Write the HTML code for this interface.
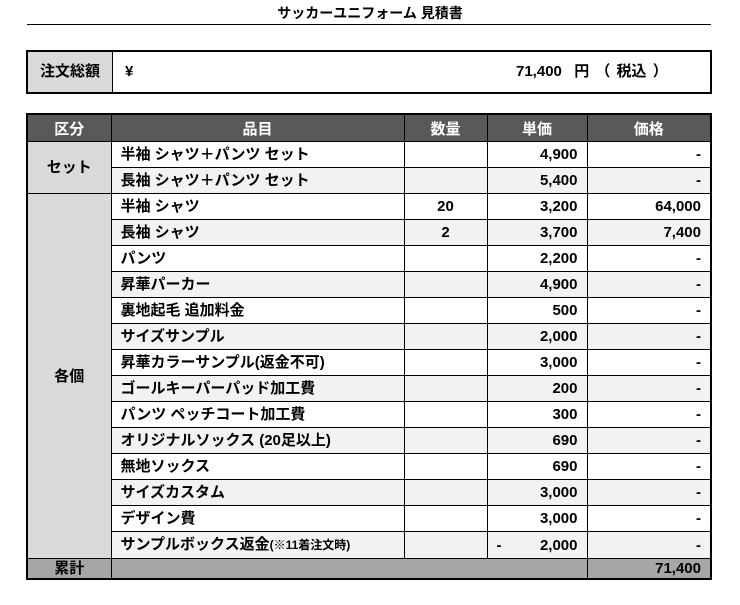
<!DOCTYPE html>
<html><head><meta charset="utf-8"><style>
body{margin:0;width:740px;height:605px;background:#fff;position:relative;font-family:"Liberation Sans","Noto Sans CJK JP",sans-serif;font-weight:bold;color:#000;}
.t{position:absolute;left:0;width:740px;top:3px;text-align:center;font-size:14px;}
.ul{position:absolute;left:27px;width:684px;top:24px;height:1px;background:#000;}
.sum{position:absolute;left:26px;top:50px;width:682px;height:40px;border:2px solid #000;}
.sum .l{position:absolute;left:0;top:0;width:84px;height:40px;background:#d9d9d9;border-right:1px solid #000;text-align:center;line-height:40px;font-size:15px;}
.sum .y{position:absolute;left:97px;top:0;line-height:40px;font-size:15px;}
.sum .v{position:absolute;left:488px;top:0;line-height:40px;font-size:15px;word-spacing:2px;}
table{position:absolute;left:26px;top:113px;border-collapse:collapse;border:2px solid #000;font-size:15px;table-layout:fixed;}
td{border:1px solid #000;padding:0 9px;height:25px;line-height:25px;white-space:nowrap;overflow:hidden;}
th{background:#595959;color:#fff;height:26px;padding:0;border:1px solid #000;font-size:15px;}
.c{background:#d9d9d9;text-align:center;}
.r{text-align:right;}
.m{text-align:center;}
tr.g td{background:#f2f2f2;}
tr.g td.c{background:#d9d9d9;}
tr.tot td{background:#a6a6a6;height:19px;line-height:19px;}
small{font-size:12px;}
</style></head><body>
<div class="t">サッカーユニフォーム 見積書</div>
<div class="ul"></div>
<div class="sum"><div class="l">注文総額</div><div class="y">¥</div><div class="v">71,400&nbsp;&nbsp;円 （ 税込 ）</div></div>
<table>
<colgroup><col style="width:84px"><col style="width:293px"><col style="width:83px"><col style="width:100px"><col style="width:124px"></colgroup>
<tr><th>区分</th><th>品目</th><th>数量</th><th>単価</th><th>価格</th></tr>
<tr><td class="c" rowspan="2">セット</td><td>半袖 シャツ＋パンツ セット</td><td></td><td class="r">4,900</td><td class="r">-</td></tr>
<tr class="g"><td>長袖 シャツ＋パンツ セット</td><td></td><td class="r">5,400</td><td class="r">-</td></tr>
<tr><td class="c" rowspan="14">各個</td><td>半袖 シャツ</td><td class="m">20</td><td class="r">3,200</td><td class="r">64,000</td></tr>
<tr class="g"><td>長袖 シャツ</td><td class="m">2</td><td class="r">3,700</td><td class="r">7,400</td></tr>
<tr><td>パンツ</td><td></td><td class="r">2,200</td><td class="r">-</td></tr>
<tr class="g"><td>昇華パーカー</td><td></td><td class="r">4,900</td><td class="r">-</td></tr>
<tr><td>裏地起毛 追加料金</td><td></td><td class="r">500</td><td class="r">-</td></tr>
<tr class="g"><td>サイズサンプル</td><td></td><td class="r">2,000</td><td class="r">-</td></tr>
<tr><td>昇華カラーサンプル(返金不可)</td><td></td><td class="r">3,000</td><td class="r">-</td></tr>
<tr class="g"><td>ゴールキーパーパッド加工費</td><td></td><td class="r">200</td><td class="r">-</td></tr>
<tr><td>パンツ ペッチコート加工費</td><td></td><td class="r">300</td><td class="r">-</td></tr>
<tr class="g"><td>オリジナルソックス (20足以上)</td><td></td><td class="r">690</td><td class="r">-</td></tr>
<tr><td>無地ソックス</td><td></td><td class="r">690</td><td class="r">-</td></tr>
<tr class="g"><td>サイズカスタム</td><td></td><td class="r">3,000</td><td class="r">-</td></tr>
<tr><td>デザイン費</td><td></td><td class="r">3,000</td><td class="r">-</td></tr>
<tr class="g"><td>サンプルボックス返金<small>(※11着注文時)</small></td><td></td><td class="r"><span style="float:left">-</span>2,000</td><td class="r">-</td></tr>
<tr class="tot"><td class="m">累計</td><td colspan="3"></td><td class="r">71,400</td></tr>
</table>
</body></html>
